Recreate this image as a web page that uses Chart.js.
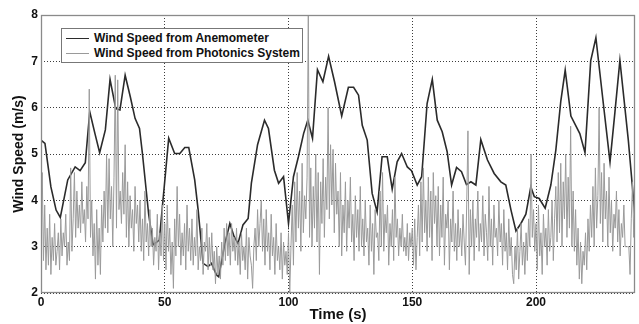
<!DOCTYPE html>
<html>
<head>
<meta charset="utf-8">
<script src="https://cdn.jsdelivr.net/npm/chart.js@4/dist/chart.umd.min.js"></script>
<style>
  html, body { margin: 0; padding: 0; background: #fff; }
  #wrap { position: relative; width: 639px; height: 324px; }
  #legend {
    position: absolute; left: 61px; top: 28px; width: 240px; height: 33px;
    border: 1px solid #777; background: #fff;
    font: bold 12px "Liberation Sans", Arial, sans-serif; color: #111;
  }
  #legend .row { position: absolute; left: 32px; height: 14px; line-height: 14px; white-space: nowrap; }
  #legend .sw { position: absolute; left: 4px; width: 23px; height: 0; }
</style>
</head>
<body>
<div id="wrap">
  <canvas id="chart" width="639" height="324"></canvas>
  <div id="legend">
    <div class="sw" style="top:9px;border-top:1.6px solid #2b2b2b"></div>
    <div class="row" style="top:2px">Wind Speed from Anemometer</div>
    <div class="sw" style="top:24px;border-top:1px solid #9a9a9a"></div>
    <div class="row" style="top:17px">Wind Speed from Photonics System</div>
  </div>
</div>
<script>
/* ── data ─────────────────────────────────────────── */
const X_TICKS = [0, 50, 100, 150, 200];
const Y_TICKS = [2, 3, 4, 5, 6, 7, 8];

// anemometer: time (s) and speed (m/s) at its vertices
const anemTime = [
  0, 1.6, 4.0, 6.1, 7.8, 10.8, 13.8, 15.8, 17.9, 19.7, 21.8, 23.7, 26.0, 27.9, 30.2, 31.9,
  34.0, 36.1, 38.0, 39.8, 41.0, 43.5, 45.3, 47.8, 51.6, 54.0, 56.1, 58.1, 59.7, 62.1, 63.5,
  65.5, 67.5, 68.9, 70.9, 71.8, 74.3, 76.3, 78.0, 79.6, 81.6, 83.7, 85.0, 87.5, 90.3, 91.9,
  94.3, 96.0, 98.0, 100.0, 102.0, 104.0, 106.1, 107.8, 109.7, 111.7, 113.9, 116.2, 118.6,
  121.5, 124.2, 126.3, 128.3, 129.8, 131.8, 133.8, 135.8, 137.8, 139.9, 141.9, 143.9, 145.7,
  148.0, 149.7, 152.0, 153.8, 156.0, 158.1, 160.1, 162.1, 164.1, 165.9, 167.9, 169.9, 171.9,
  173.7, 175.7, 177.7, 180.4, 183.1, 185.8, 187.8, 189.9, 191.9, 193.9, 195.9, 197.9, 199.3,
  201.3, 203.7, 206.0, 208.0, 210.0, 211.8, 214.1, 217.7, 219.8, 222.1, 224.2, 227.2, 229.9,
  231.9, 233.9, 237.3, 240
];
const anemSpeed = [
  5.30, 5.23, 4.29, 3.79, 3.63, 4.44, 4.72, 4.64, 4.81, 5.91, 5.44, 5.03, 5.52, 6.61, 5.98, 5.95,
  6.70, 6.23, 5.77, 5.55, 5.00, 3.70, 3.04, 3.14, 5.34, 5.01, 5.01, 5.14, 5.14, 4.44, 3.79,
  2.64, 2.57, 2.64, 2.39, 2.35, 3.07, 3.50, 3.22, 3.07, 3.47, 3.61, 4.37, 5.20, 5.73, 5.55,
  4.65, 4.37, 4.51, 3.50, 4.51, 4.94, 5.44, 5.73, 5.34, 6.82, 6.56, 7.11, 6.56,
  5.82, 6.44, 6.44, 6.27, 5.62, 5.30, 4.15, 3.75, 4.94, 4.94, 4.24, 4.83, 5.01,
  4.72, 4.64, 4.33, 4.51, 6.09, 6.61, 5.73, 5.48, 5.05, 4.33, 4.71, 4.62, 4.34,
  4.40, 4.33, 5.31, 4.87, 4.58, 4.40, 4.33, 3.79, 3.34, 3.50, 3.70, 4.29, 4.08,
  4.04, 3.83, 4.33, 5.08, 6.13, 6.81, 5.82, 5.44, 5.03, 7.01, 7.51, 6.09, 4.83,
  5.91, 7.02, 5.30, 3.65
];

// photonics system: one reading every 0.5 s, 0 .. 240 s
const PHOTO_STEP = 0.5;
const photoSpeed = [
  3.6, 4.6, 2.7, 3.9, 2.5, 3.4, 2.6, 3.7, 2.4, 3.2, 2.7, 3.5, 2.6, 2.9, 3.3, 2.5, 3.6, 2.8, 3.3, 3.0,
  3.7, 2.6, 3.1, 2.7, 4.7, 2.9, 3.6, 4.6, 3.2, 4.2, 3.4, 3.9, 3.3, 4.4, 3.5, 3.8, 3.1, 4.3, 3.6, 6.4,
  3.2, 4.0, 2.8, 3.5, 2.3, 3.8, 2.6, 3.4, 2.4, 3.9, 3.1, 4.2, 3.4, 5.0, 3.3, 4.9, 3.6, 4.3, 3.0, 4.5,
  6.7, 3.4, 6.6, 3.8, 4.2, 3.5, 4.6, 3.7, 5.2, 3.2, 4.4, 3.0, 4.1, 3.4, 3.8, 2.9, 4.3, 3.5, 3.9, 3.1,
  4.0, 2.9, 3.6, 2.7, 4.2, 3.1, 3.5, 2.8, 3.8, 3.0, 3.4, 2.6, 3.2, 2.9, 3.7, 2.5, 3.3, 2.8, 3.9, 2.7,
  3.5, 2.5, 3.9, 2.9, 3.4, 2.4, 3.1, 2.1, 3.6, 2.8, 4.3, 3.0, 3.7, 2.6, 3.3, 2.8, 3.5, 2.5, 3.9, 2.9,
  3.4, 2.7, 3.6, 2.6, 3.2, 2.8, 3.8, 2.5, 3.0, 2.7, 3.4, 2.4, 3.1, 2.9, 3.5, 2.5, 3.2, 2.6, 3.3, 2.5,
  2.9, 2.2, 3.0, 2.4, 2.8, 2.3, 3.1, 2.6, 3.4, 2.7, 3.5, 2.8, 3.3, 2.6, 3.5, 2.9, 3.2, 2.7, 3.4, 2.6,
  3.1, 2.4, 3.3, 2.7, 3.0, 2.5, 3.4, 2.3, 3.2, 2.8, 2.6, 2.1, 3.0, 3.4, 2.7, 3.8, 3.0, 3.5, 4.0, 2.9,
  3.6, 2.6, 3.8, 2.9, 3.3, 2.5, 3.7, 2.8, 3.2, 2.4, 3.5, 2.7, 3.0, 2.5, 3.3, 2.3, 3.1, 2.6, 2.9, 2.4,
  3.3, 2.0, 3.0, 3.9, 2.6, 4.4, 3.1, 4.6, 3.4, 4.2, 2.9, 4.8, 3.3, 4.1, 3.6, 4.5, 8.0, 3.2, 4.7, 3.0,
  4.3, 3.4, 5.0, 3.1, 4.6, 2.4, 4.4, 3.5, 4.9, 3.2, 4.5, 3.8, 6.0, 3.6, 5.2, 3.9, 5.1, 3.3, 4.8, 3.7,
  4.2, 3.0, 4.6, 2.8, 3.9, 3.3, 4.4, 2.9, 4.0, 3.4, 4.5, 3.1, 3.7, 2.7, 4.1, 3.2, 3.8, 2.9, 4.3, 3.0,
  3.6, 2.8, 4.0, 3.1, 3.4, 2.6, 3.9, 2.9, 3.5, 2.4, 3.8, 3.2, 3.3, 2.7, 4.2, 3.0, 4.6, 2.9, 3.7, 3.3,
  3.9, 2.6, 3.5, 3.0, 3.8, 2.7, 4.5, 3.2, 3.6, 2.8, 3.4, 3.0, 3.7, 2.9, 3.2, 2.8, 3.5, 2.7, 3.3, 3.0,
  3.4, 2.6, 3.6, 2.5, 3.2, 3.9, 2.8, 4.4, 3.1, 4.7, 3.3, 4.0, 2.9, 4.5, 3.2, 4.2, 2.7, 4.6, 3.5, 4.1,
  3.0, 4.3, 2.8, 3.9, 3.2, 4.5, 2.6, 3.7, 3.4, 4.0, 2.5, 3.6, 3.1, 4.2, 2.9, 3.5, 2.7, 3.8, 3.0, 3.4,
  2.8, 3.7, 3.1, 2.6, 3.9, 5.5, 2.4, 3.8, 3.0, 4.0, 2.7, 3.6, 3.2, 4.2, 2.9, 3.5, 3.1, 4.1, 2.8, 3.7,
  3.3, 2.7, 4.3, 3.0, 3.6, 2.6, 3.9, 3.2, 3.4, 2.8, 4.0, 3.1, 3.5, 2.6, 3.8, 2.9, 3.3, 2.5, 3.6, 2.8,
  3.2, 2.4, 2.2, 3.0, 2.5, 3.4, 2.3, 2.9, 3.5, 2.6, 3.1, 2.4, 3.3, 2.7, 3.6, 3.0, 5.0, 3.2, 3.8, 2.9,
  3.5, 2.5, 3.9, 2.8, 3.3, 2.4, 3.7, 3.0, 3.4, 2.6, 3.8, 2.9, 3.2, 4.0, 2.7, 3.6, 4.3, 3.1, 4.6, 3.3,
  4.8, 3.0, 4.4, 3.6, 5.0, 3.2, 4.5, 3.4, 5.6, 3.0, 4.2, 2.9, 3.8, 2.6, 3.4, 2.3, 3.1, 2.2, 2.9, 2.6,
  3.3, 2.5, 3.6, 2.9, 3.9, 3.2, 4.3, 3.0, 4.7, 3.4, 4.1, 6.0, 3.5, 4.6, 3.1, 4.8, 3.6, 4.2, 3.0, 4.5,
  3.3, 4.0, 2.9, 3.7, 3.4, 4.2, 3.1, 3.8, 2.8, 3.5, 3.2, 3.9, 3.0, 3.0, 3.0, 3.0, 2.4, 3.6, 4.4, 3.2,
  3.9
];

/* ── build ────────────────────────────────────────── */
const FONT = '"Liberation Sans", Arial, Helvetica, sans-serif';
const anemPoints = anemTime.map((t, i) => ({ x: t, y: anemSpeed[i] }));
const photoPoints = photoSpeed.map((v, i) => ({ x: i * PHOTO_STEP, y: v }));

// dotted grid, MATLAB style
const GRID = { color: '#3c3c3c', lineWidth: 1, drawTicks: false, borderDash: [1, 2] };
const BORDER = { display: false, dash: [1, 2] };

// plot frame (box on all four sides)
const framePlugin = {
  id: 'frame',
  afterDatasetsDraw(chart) {
    const { ctx, chartArea: a } = chart;
    ctx.save();
    ctx.strokeStyle = '#8a8a8a';
    ctx.lineWidth = 1.3;
    ctx.strokeRect(a.left + 0.5, a.top + 0.5, a.right - a.left - 1, a.bottom - a.top - 1);
    ctx.restore();
  }
};

new Chart(document.getElementById('chart').getContext('2d'), {
  type: 'line',
  data: {
    datasets: [
      {
        label: 'Wind Speed from Photonics System',
        data: photoPoints,
        borderColor: '#9a9a9a',
        borderWidth: 1,
        pointRadius: 0,
        tension: 0
      },
      {
        label: 'Wind Speed from Anemometer',
        data: anemPoints,
        borderColor: '#2b2b2b',
        borderWidth: 1.6,
        pointRadius: 0,
        tension: 0
      }
    ]
  },
  options: {
    responsive: false,
    animation: false,
    layout: { padding: { top: 15, right: 4, left: 0, bottom: 0 } },
    plugins: { legend: { display: false }, tooltip: { enabled: false } },
    scales: {
      x: {
        type: 'linear', min: 0, max: 240,
        grid: GRID, border: BORDER,
        afterBuildTicks: s => { s.ticks = X_TICKS.map(v => ({ value: v })); },
        afterFit: s => { s.height = 31; },
        ticks: { padding: 2, color: '#111', font: { family: FONT, size: 12, weight: 'bold' }, maxRotation: 0 },
        title: { display: true, text: 'Time (s)', color: '#111', padding: { top: 0, bottom: 0 },
                 font: { family: FONT, size: 15, weight: 'bold' } }
      },
      y: {
        type: 'linear', min: 2, max: 8,
        grid: GRID, border: BORDER,
        afterBuildTicks: s => { s.ticks = Y_TICKS.map(v => ({ value: v })); },
        afterFit: s => { s.width = 41; },
        ticks: { padding: 3, color: '#111', font: { family: FONT, size: 12, weight: 'bold' } },
        title: { display: true, text: 'Wind Speed (m/s)', color: '#111', padding: { top: 11, bottom: 0 },
                 font: { family: FONT, size: 14, weight: 'bold' } }
      }
    }
  },
  plugins: [framePlugin]
});
</script>
</body>
</html>
